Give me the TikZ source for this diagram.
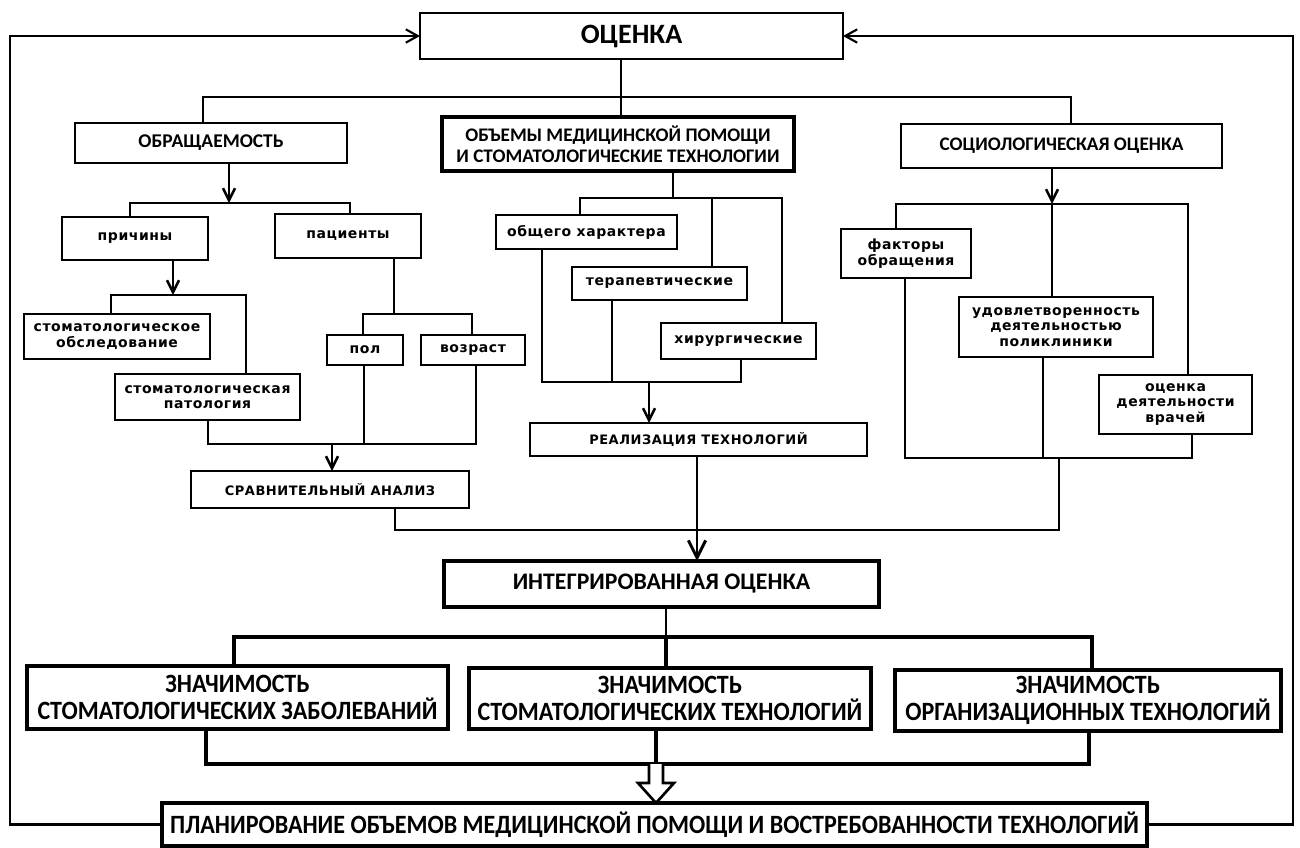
\documentclass[tikz,border=0pt]{standalone}
\usepackage{fontspec}
\setmainfont{Carlito}
\newfontfamily\headf{Carlito}
\newfontfamily\condf{Carlito}[FakeStretch=0.91]
\newfontfamily\smallf{DejaVu Sans}[LetterSpace=4]
\usetikzlibrary{arrows.meta,calc}
\begin{document}
\begin{tikzpicture}[x=0.75pt,y=-0.75pt,
  bx/.style={draw, line width=2.1pt, inner sep=0pt, outer sep=0pt, align=center, fill=white},
  sz/.style 2 args={minimum width=#1*0.75pt, minimum height=#2*0.75pt},
  sml/.style={font=\smallf\bfseries\fontsize{10.5}{11.6}\selectfont},
  cps/.style={font=\smallf\bfseries\fontsize{9.75}{11}\selectfont},
  hd/.style={font=\headf\bfseries\fontsize{#1}{#1}\selectfont},
  cnd/.style={font=\condf\bfseries\fontsize{19.8}{20.5}\selectfont, line width=2.8pt},
  ln/.style={line width=1.9pt, line cap=rect},
  arr/.style={line width=1.9pt, -{Straight Barb[length=9pt,width=9pt,line width=1.9pt]}},
  bigarr/.style={line width=2.2pt, -{Straight Barb[length=13pt,width=13pt,line width=2.2pt]}},
  fb/.style={line width=1.9pt, -{Straight Barb[length=9pt,width=10pt,line width=1.6pt]}},
  thick3/.style={line width=2.6pt}
]
\useasboundingbox (0,0) rectangle (1300,847);
\fill[white] (0,0) rectangle (1300,847);

% ---------- nodes ----------
\node[bx, sz={423}{46}, hd=21] (ocenka) at (631.5,36) {ОЦЕНКА};
\node[bx, sz={272}{40}, hd=14.6] (obr) at (211,143) {ОБРАЩАЕМОСТЬ};
\node[bx, sz={352}{54}, font=\headf\bfseries\fontsize{14.4}{15.8}\selectfont, line width=3.6pt] (obem) at (618,144) {ОБЪЕМЫ МЕДИЦИНСКОЙ ПОМОЩИ\\И СТОМАТОЛОГИЧЕСКИЕ ТЕХНОЛОГИИ};
\node[bx, sz={321}{44}, hd=14.4] (socio) at (1061.5,146) {СОЦИОЛОГИЧЕСКАЯ ОЦЕНКА};

\node[bx, sz={146}{43}, sml] (prich) at (135,238.5) {причины};
\node[bx, sz={146}{44}, sml] (pac) at (348,236) {пациенты};
\node[bx, sz={186}{45}, sml] (obsl) at (117,336.5) {стоматологическое\\обследование};
\node[bx, sz={185}{46}, sml] (pat) at (207.5,397) {стоматологическая\\патология};
\node[bx, sz={76}{30}, sml] (pol) at (365,350) {пол};
\node[bx, sz={104}{30}, sml] (voz) at (473,350) {возраст};
\node[bx, sz={278}{37}, cps] (srav) at (330,489.5) {СРАВНИТЕЛЬНЫЙ АНАЛИЗ};

\node[bx, sz={181}{34}, sml] (obsh) at (586.5,232) {общего характера};
\node[bx, sz={175}{33}, sml] (ter) at (659.5,283.5) {терапевтические};
\node[bx, sz={155}{36}, sml] (hir) at (738.5,341) {хирургические};
\node[bx, sz={337}{33}, cps] (real) at (698.5,439.5) {РЕАЛИЗАЦИЯ ТЕХНОЛОГИЙ};

\node[bx, sz={130}{49}, sml] (fakt) at (906,253.5) {факторы\\обращения};
\node[bx, sz={194}{60}, sml] (udov) at (1056,327) {удовлетворенность\\деятельностью\\поликлиники};
\node[bx, sz={153}{59}, sml] (vrach) at (1175.5,404.5) {оценка\\деятельности\\врачей};

\node[bx, sz={435}{46}, hd=17.8, line width=2.6pt] (integ) at (661.5,584) {ИНТЕГРИРОВАННАЯ ОЦЕНКА};
\node[bx, sz={421}{63}, cnd] (z1) at (237.5,697.5) {ЗНАЧИМОСТЬ\\СТОМАТОЛОГИЧЕСКИХ ЗАБОЛЕВАНИЙ};
\node[bx, sz={402}{61}, cnd] (z2) at (670,698.5) {ЗНАЧИМОСТЬ\\СТОМАТОЛОГИЧЕСКИХ ТЕХНОЛОГИЙ};
\node[bx, sz={386}{61}, cnd] (z3) at (1088,700.5) {ЗНАЧИМОСТЬ\\ОРГАНИЗАЦИОННЫХ ТЕХНОЛОГИЙ};
\node[bx, sz={985}{43}, cnd] (plan) at (654.5,824.5) {ПЛАНИРОВАНИЕ ОБЪЕМОВ МЕДИЦИНСКОЙ ПОМОЩИ И ВОСТРЕБОВАННОСТИ ТЕХНОЛОГИЙ};

% ---------- coordinates ----------
\coordinate (t0) at (621,97);
\coordinate (tL) at (203,97);
\coordinate (tR) at (1071,97);
\coordinate (a1) at (229,203);
\coordinate (a1L) at (130,203);
\coordinate (a1R) at (350,203);
\coordinate (a2) at (173,295);
\coordinate (a2L) at (111,295);
\coordinate (a2R) at (246,295);
\coordinate (a3) at (394,314);
\coordinate (a3L) at (363,314);
\coordinate (a3R) at (472,314);
\coordinate (c1L) at (208,444);
\coordinate (c1M) at (364,444);
\coordinate (c1R) at (476,444);
\coordinate (c1A) at (332,444);
\coordinate (m1) at (395,530);
\coordinate (mA) at (697,530);
\coordinate (b0) at (673,198);
\coordinate (bL) at (580,198);
\coordinate (bM) at (712,198);
\coordinate (bR) at (782,198);
\coordinate (dL) at (542,382);
\coordinate (dM) at (612,382);
\coordinate (dR) at (741,382);
\coordinate (dA) at (649,382);
\coordinate (e0) at (1052,204);
\coordinate (eL) at (896,204);
\coordinate (eR) at (1188,204);
\coordinate (fL) at (905,458);
\coordinate (fM) at (1043,458);
\coordinate (fR) at (1192,458);
\coordinate (fJ) at (1059,458);
\coordinate (g0) at (666,637);
\coordinate (gL) at (234,637);
\coordinate (gR) at (1092,637);
\coordinate (hL) at (206,764);
\coordinate (hM) at (656,764);
\coordinate (hR) at (1089,764);
\coordinate (L2) at (10,36);
\coordinate (R2) at (1293,36);

% ---------- connectors ----------
\draw[ln] (t0 |- ocenka.south) -- (t0 |- obem.north);
\draw[ln] (tL |- obr.north) -- (tL) -- (tR) -- (tR |- socio.north);

\draw[arr] (a1 |- obr.south) -- (a1);
\draw[ln] (a1L |- prich.north) -- (a1L) -- (a1R) -- (a1R |- pac.north);
\draw[arr] (a2 |- prich.south) -- (a2);
\draw[ln] (a2L |- obsl.north) -- (a2L) -- (a2R) -- (a2R |- pat.north);
\draw[ln] (a3 |- pac.south) -- (a3);
\draw[ln] (a3L |- pol.north) -- (a3L) -- (a3R) -- (a3R |- voz.north);
\draw[ln] (c1L |- pat.south) -- (c1L) -- (c1R) -- (c1R |- voz.south);
\draw[ln] (c1M |- pol.south) -- (c1M);
\draw[arr] (c1A) -- (c1A |- srav.north);

\draw[ln] (b0 |- obem.south) -- (b0);
\draw[ln] (bL |- obsh.north) -- (bL) -- (bR) -- (bR |- hir.north);
\draw[ln] (bM) -- (bM |- ter.north);
\draw[ln] (dL |- obsh.south) -- (dL) -- (dR) -- (dR |- hir.south);
\draw[ln] (dM |- ter.south) -- (dM);
\draw[arr] (dA) -- (dA |- real.north);

\draw[arr] (e0 |- socio.south) -- (e0);
\draw[ln] (eL |- fakt.north) -- (eL) -- (eR) -- (eR |- vrach.north);
\draw[ln] (e0) -- (e0 |- udov.north);
\draw[ln] (fL |- fakt.south) -- (fL) -- (fR) -- (fR |- vrach.south);
\draw[ln] (fM |- udov.south) -- (fM);

\draw[ln] (m1 |- srav.south) -- (m1) -- (fJ |- m1) -- (fJ);
\draw[bigarr] (mA |- real.south) -- (mA |- integ.north);

\draw[ln] (g0 |- integ.south) -- (g0);
\draw[ln, thick3] (gL |- z1.north) -- (gL) -- (gR) -- (gR |- z3.north);
\draw[ln, thick3] (g0) -- (g0 |- z2.north);
\draw[ln, thick3] (hL |- z1.south) -- (hL) -- (hR) -- (hR |- z3.south);
\draw[ln, thick3] (hM |- z2.south) -- (hM);

% hollow block arrow
\draw[line width=2pt, fill=white, line join=miter]
  ($(hM)+(-7,0)$) -- ($(hM |- plan.north)+(-7,-20)$) -- ($(hM |- plan.north)+(-18,-20)$)
  -- (hM |- plan.north) -- ($(hM |- plan.north)+(18,-20)$) -- ($(hM |- plan.north)+(7,-20)$)
  -- ($(hM)+(7,0)$);

% feedback loops
\draw[fb] (plan.west) -| (L2) -- (ocenka.west);
\draw[fb] (plan.east) -| (R2) -- (ocenka.east);
\end{tikzpicture}
\end{document}
